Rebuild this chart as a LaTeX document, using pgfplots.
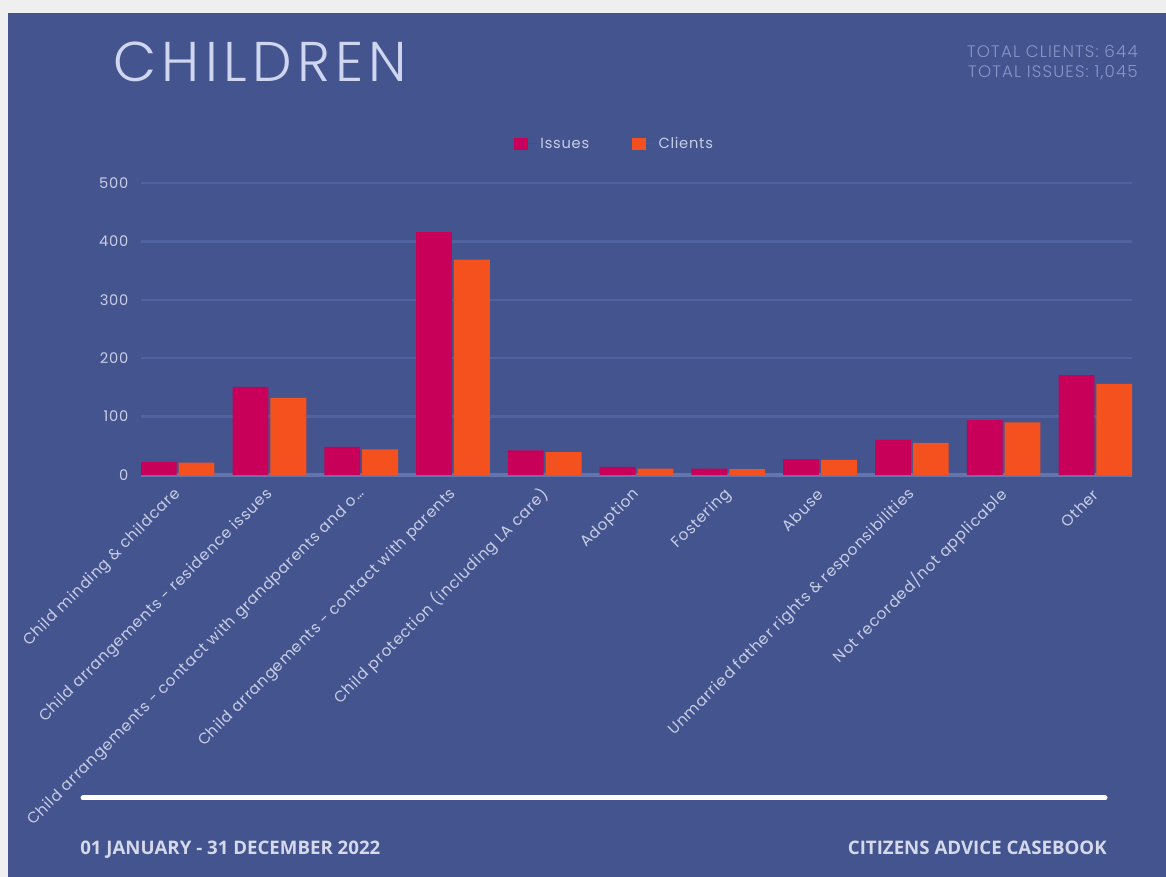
\documentclass[border=0pt]{standalone}
\usepackage{pgfplots}
\pgfplotsset{compat=1.18}
\usepackage{fontspec}
\setmainfont{Poppins}
\newfontfamily\titlefont{Poppins Light}[LetterSpace=9.5]
\newfontfamily\totalfont{Poppins Light}[LetterSpace=7]
\newfontfamily\labfont{Poppins}[LetterSpace=5]
\newfontfamily\footfont{Open Sans}
\definecolor{bg}{HTML}{43548F}
\definecolor{edge}{HTML}{EFEFEF}
\definecolor{issues}{HTML}{C8005A}
\definecolor{clients}{HTML}{F4511E}
\definecolor{gridc}{HTML}{5162A0}
\definecolor{zeroc}{HTML}{6474AC}
\definecolor{tickc}{HTML}{C9CEE6}
\definecolor{titlec}{HTML}{D0D6F0}
\definecolor{totalc}{HTML}{8A95C6}
\definecolor{footc}{HTML}{D5D9EC}
\begin{document}
\begin{tikzpicture}[x=0.75pt,y=0.75pt]
\fill[edge] (0,0) rectangle (1166,877);
\fill[bg] (8,0) rectangle (1166,864);
\node[anchor=base west, inner sep=0pt, text=titlec, font=\titlefont\fontsize{42}{42}\selectfont] at (113,795) {CHILDREN};
\node[anchor=base east, inner sep=0pt, align=right, text=totalc, font=\totalfont\fontsize{12.5}{15}\selectfont] at (1138,799) {TOTAL CLIENTS: 644\\TOTAL ISSUES: 1,045};
\begin{axis}[
  at={(105.75pt,301.5pt)}, anchor=south west,
  scale only axis, width=743.25pt, height=219pt,
  xmin=-0.4, xmax=10.4, ymin=0, ymax=500,
  ybar=1.5pt, bar width=0.39,
  axis line style={draw=none},
  major tick style={draw=none},
  ytick={100,200,300,400,500},
  extra y ticks={0},
  extra y tick style={grid=major, major grid style={zeroc, line width=3pt}, major tick style={draw=none}},
  ymajorgrids, major grid style={gridc, line width=1.8pt},
  xtick={0,1,2,3,4,5,6,7,8,9,10},
  xticklabels={{Child minding \& childcare},{Child arrangements - residence issues},{Child arrangements - contact with grandparents and o\ldots},{Child arrangements - contact with parents},{Child protection (including LA care)},{Adoption},{Fostering},{Abuse},{Unmarried father rights \& responsibilities},{Not recorded/not applicable},{Other}},
  xticklabel style={yshift=-6pt, xshift=3pt, rotate=45, anchor=east, font=\labfont\fontsize{11.5}{12}\selectfont, text=tickc},
  yticklabel style={xshift=-6pt, font=\labfont\fontsize{11}{12}\selectfont, text=tickc},
  /pgf/number format/assume math mode=true,
  legend style={at={(0.478,1.1336)}, anchor=center, draw=none, fill=none, text=tickc, font=\labfont\fontsize{11}{12}\selectfont, legend columns=2, /tikz/every even column/.append style={column sep=30pt}},
  legend image code/.code={\fill[#1] (0pt,-4.6pt) rectangle (10.5pt,4.6pt); \path (0pt,0pt) -- (18pt,0pt);},
]
\addplot[fill=issues, draw=none] coordinates {(0,22) (1,151) (2,48) (3,416) (4,42) (5,14) (6,11) (7,27) (8,60) (9,94) (10,171)};
\addplot[fill=clients, draw=none] coordinates {(0,21) (1,132) (2,44) (3,369) (4,39) (5,11) (6,10) (7,26) (8,55) (9,90) (10,156)};
\legend{Issues, Clients}
\end{axis}
\draw[white, line width=3.75pt, line cap=round] (83,79) -- (1105,79);
\node[anchor=base west, inner sep=0pt, text=footc, font=\footfont\bfseries\fontsize{14}{15}\selectfont] at (80,22) {01 JANUARY - 31 DECEMBER 2022};
\node[anchor=base east, inner sep=0pt, text=footc, font=\footfont\bfseries\fontsize{14}{15}\selectfont] at (1107,22) {CITIZENS ADVICE CASEBOOK};
\pgfresetboundingbox
\useasboundingbox (0,0) rectangle (1166,877);
\end{tikzpicture}
\end{document}
